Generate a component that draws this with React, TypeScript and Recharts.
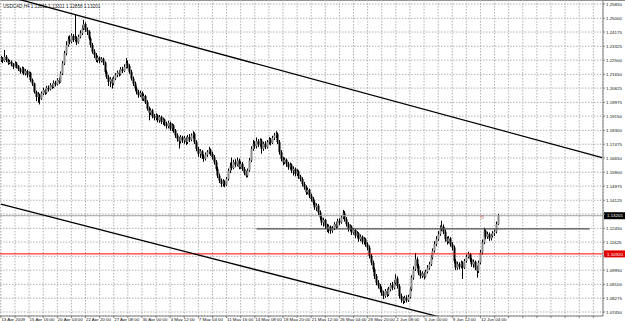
import React from "react";
import {
  ComposedChart,
  Bar,
  XAxis,
  YAxis,
  CartesianGrid,
  ReferenceLine,
  ReferenceDot,
} from "recharts";

// USDCAD H4 bars: [high, low, close], open = previous close
const firstOpen = 1.225;
const bars: [number, number, number][] = [
  // 0
  [1.2275, 1.2238, 1.226], [1.2268, 1.2232, 1.2245], [1.231, 1.224, 1.227], [1.228, 1.2238, 1.225], [1.2258, 1.2222, 1.2235],
  [1.2252, 1.2225, 1.224], [1.2248, 1.2212, 1.2225], [1.2232, 1.2196, 1.221], [1.2242, 1.2205, 1.223], [1.2238, 1.22, 1.2215],
  // 10
  [1.222, 1.2185, 1.2195], [1.2205, 1.2168, 1.218], [1.2212, 1.2172, 1.22], [1.2208, 1.216, 1.217], [1.2196, 1.2158, 1.2185],
  [1.2192, 1.2145, 1.216], [1.2182, 1.215, 1.2175], [1.218, 1.212, 1.213], [1.214, 1.2095, 1.211], [1.2115, 1.205, 1.206],
  // 20
  [1.2068, 1.2005, 1.203], [1.2058, 1.1995, 1.2045], [1.205, 1.1985, 1.202], [1.2062, 1.2012, 1.205], [1.2085, 1.204, 1.207],
  [1.2078, 1.2042, 1.2055], [1.2096, 1.2048, 1.2085], [1.2098, 1.2062, 1.2075], [1.2112, 1.2068, 1.21], [1.211, 1.2078, 1.209],
  // 30
  [1.2128, 1.2082, 1.2115], [1.2126, 1.2092, 1.2105], [1.2142, 1.2098, 1.213], [1.2146, 1.2108, 1.212], [1.2182, 1.2115, 1.217],
  [1.2245, 1.216, 1.223], [1.2305, 1.222, 1.229], [1.2362, 1.2278, 1.234], [1.2392, 1.233, 1.2375], [1.2398, 1.2345, 1.236],
  // 40
  [1.241, 1.235, 1.2395], [1.2405, 1.2358, 1.237], [1.252, 1.2362, 1.238], [1.2392, 1.234, 1.2355], [1.2402, 1.2348, 1.239],
  [1.2428, 1.238, 1.241], [1.2458, 1.24, 1.244], [1.249, 1.243, 1.2465], [1.2475, 1.2418, 1.243], [1.2445, 1.24, 1.242],
  // 50
  [1.2428, 1.2368, 1.238], [1.239, 1.2325, 1.234], [1.2352, 1.2288, 1.23], [1.2315, 1.2262, 1.228], [1.2292, 1.2238, 1.225],
  [1.2275, 1.2235, 1.2265], [1.2272, 1.2232, 1.2245], [1.2268, 1.2236, 1.2258], [1.2265, 1.222, 1.2235], [1.2242, 1.2168, 1.218],
  // 60
  [1.219, 1.2138, 1.215], [1.216, 1.2095, 1.212], [1.2148, 1.2088, 1.2135], [1.2145, 1.208, 1.211], [1.2152, 1.21, 1.214],
  [1.2172, 1.213, 1.216], [1.2188, 1.2148, 1.2175], [1.219, 1.2152, 1.2165], [1.2208, 1.2158, 1.2195], [1.221, 1.2172, 1.2185],
  // 70
  [1.2225, 1.2178, 1.221], [1.2262, 1.22, 1.223], [1.2248, 1.22, 1.2215], [1.2225, 1.2168, 1.218], [1.2192, 1.2128, 1.214],
  [1.2152, 1.2095, 1.211], [1.2122, 1.2068, 1.208], [1.2092, 1.2045, 1.206], [1.2072, 1.2025, 1.204], [1.2068, 1.203, 1.2055],
  // 80
  [1.2062, 1.2008, 1.202], [1.2048, 1.2005, 1.2035], [1.2042, 1.1988, 1.2], [1.201, 1.1948, 1.196], [1.1972, 1.189, 1.1935],
  [1.1962, 1.1922, 1.195], [1.1958, 1.1902, 1.1915], [1.1928, 1.189, 1.1905], [1.1932, 1.1892, 1.192], [1.1926, 1.1878, 1.189],
  // 90
  [1.1922, 1.1875, 1.191], [1.1918, 1.1868, 1.188], [1.1906, 1.1862, 1.1895], [1.19, 1.1855, 1.187], [1.1882, 1.184, 1.1855],
  [1.1888, 1.1842, 1.1875], [1.1882, 1.1828, 1.184], [1.1872, 1.1825, 1.186], [1.1866, 1.1815, 1.183], [1.1838, 1.1785, 1.18],
  // 100
  [1.1812, 1.1762, 1.178], [1.1792, 1.1722, 1.1765], [1.1802, 1.1752, 1.179], [1.1798, 1.1755, 1.177], [1.1796, 1.175, 1.1785],
  [1.1792, 1.1742, 1.176], [1.1802, 1.1748, 1.179], [1.1808, 1.176, 1.1775], [1.1812, 1.1765, 1.18], [1.1825, 1.1782, 1.181],
  // 110
  [1.1818, 1.1748, 1.176], [1.1772, 1.1705, 1.172], [1.1732, 1.1672, 1.169], [1.1718, 1.1665, 1.1705], [1.1712, 1.166, 1.1675],
  [1.1688, 1.1642, 1.166], [1.1698, 1.165, 1.1685], [1.1712, 1.1672, 1.17], [1.1732, 1.1688, 1.1715], [1.1722, 1.1678, 1.169],
  // 120
  [1.1702, 1.1655, 1.167], [1.1682, 1.1625, 1.164], [1.1652, 1.1588, 1.16], [1.1612, 1.1545, 1.156], [1.1572, 1.1515, 1.153],
  [1.1542, 1.1492, 1.151], [1.1538, 1.1495, 1.1525], [1.1532, 1.149, 1.1505], [1.1552, 1.1498, 1.154], [1.1602, 1.153, 1.159],
  // 130
  [1.1638, 1.1575, 1.162], [1.1668, 1.1592, 1.1605], [1.1655, 1.1598, 1.164], [1.1658, 1.161, 1.1625], [1.1668, 1.1615, 1.165],
  [1.1662, 1.1598, 1.161], [1.1645, 1.16, 1.163], [1.1642, 1.1588, 1.16], [1.1612, 1.1562, 1.1575], [1.159, 1.1548, 1.156],
  // 140
  [1.1602, 1.155, 1.159], [1.1665, 1.1582, 1.165], [1.1735, 1.164, 1.172], [1.1772, 1.1708, 1.175], [1.1768, 1.172, 1.1735],
  [1.1788, 1.1722, 1.1765], [1.1778, 1.173, 1.1745], [1.1782, 1.1735, 1.177], [1.178, 1.169, 1.172], [1.1762, 1.1708, 1.175],
  // 150
  [1.1765, 1.1718, 1.173], [1.1772, 1.1722, 1.176], [1.179, 1.1745, 1.1775], [1.1785, 1.174, 1.1755], [1.1798, 1.1748, 1.1785],
  [1.1815, 1.1772, 1.18], [1.1825, 1.1785, 1.181], [1.1818, 1.1748, 1.176], [1.1772, 1.1685, 1.17], [1.1712, 1.1645, 1.166],
  // 160
  [1.1672, 1.1622, 1.164], [1.1668, 1.1628, 1.1655], [1.1662, 1.1612, 1.163], [1.1642, 1.1595, 1.161], [1.1638, 1.1598, 1.1625],
  [1.1632, 1.1575, 1.159], [1.1615, 1.156, 1.16], [1.1608, 1.1555, 1.157], [1.1598, 1.1558, 1.1585], [1.1592, 1.154, 1.1555],
  // 170
  [1.1565, 1.1525, 1.154], [1.155, 1.1495, 1.151], [1.1522, 1.1475, 1.149], [1.1502, 1.1445, 1.146], [1.1488, 1.1448, 1.1475],
  [1.1482, 1.1425, 1.144], [1.1452, 1.1405, 1.142], [1.1432, 1.1385, 1.14], [1.1412, 1.1355, 1.137], [1.1395, 1.1348, 1.138],
  // 180
  [1.139, 1.1325, 1.134], [1.1352, 1.1295, 1.131], [1.1322, 1.1262, 1.128], [1.1308, 1.1255, 1.1295], [1.1302, 1.124, 1.126],
  [1.1272, 1.1222, 1.124], [1.1268, 1.1215, 1.1255], [1.1262, 1.1212, 1.123], [1.1258, 1.1218, 1.1245], [1.1282, 1.1235, 1.127],
  // 190
  [1.1285, 1.124, 1.1255], [1.1302, 1.1248, 1.129], [1.1305, 1.1265, 1.128], [1.1322, 1.1272, 1.131], [1.1355, 1.13, 1.1335],
  [1.1348, 1.1285, 1.13], [1.1312, 1.1255, 1.127], [1.1282, 1.1225, 1.124], [1.1268, 1.1228, 1.1255], [1.1262, 1.1205, 1.122],
  // 200
  [1.1248, 1.1208, 1.1235], [1.1242, 1.1185, 1.12], [1.1228, 1.119, 1.1215], [1.1222, 1.1165, 1.118], [1.1208, 1.1168, 1.1195],
  [1.1202, 1.115, 1.1165], [1.1192, 1.1148, 1.118], [1.1188, 1.1135, 1.115], [1.1162, 1.1112, 1.113], [1.1142, 1.1065, 1.108],
  // 210
  [1.1092, 1.1025, 1.104], [1.1052, 1.0985, 1.1], [1.1012, 1.0942, 1.096], [1.0972, 1.0905, 1.092], [1.0935, 1.0885, 1.09],
  [1.0912, 1.0862, 1.088], [1.0895, 1.0842, 1.086], [1.0872, 1.0822, 1.084], [1.0882, 1.083, 1.087], [1.0885, 1.0835, 1.085],
  // 220
  [1.0895, 1.084, 1.088], [1.0918, 1.0868, 1.0905], [1.0925, 1.0875, 1.089], [1.0935, 1.088, 1.092], [1.097, 1.0908, 1.0945],
  [1.0958, 1.0885, 1.09], [1.0912, 1.0825, 1.084], [1.0855, 1.08, 1.082], [1.0835, 1.0792, 1.081], [1.0842, 1.0798, 1.083],
  // 230
  [1.0845, 1.0802, 1.0815], [1.0848, 1.0805, 1.0835], [1.0895, 1.0825, 1.088], [1.0965, 1.087, 1.095], [1.1018, 1.0938, 1.1],
  [1.1098, 1.099, 1.106], [1.1072, 1.1005, 1.102], [1.1032, 1.0965, 1.098], [1.0995, 1.0945, 1.096], [1.0988, 1.0948, 1.0975],
  // 240
  [1.0985, 1.094, 1.0955], [1.0998, 1.095, 1.0985], [1.1025, 1.0975, 1.101], [1.1045, 1.0998, 1.103], [1.1085, 1.102, 1.107],
  [1.1125, 1.106, 1.111], [1.1168, 1.11, 1.115], [1.1198, 1.1138, 1.118], [1.1228, 1.117, 1.121], [1.1262, 1.12, 1.124],
  // 250
  [1.129, 1.1228, 1.1255], [1.1268, 1.121, 1.1225], [1.1238, 1.1165, 1.118], [1.1195, 1.1148, 1.1165], [1.1198, 1.1155, 1.1185],
  [1.1192, 1.1135, 1.115], [1.1162, 1.1112, 1.113], [1.1142, 1.1035, 1.105], [1.1062, 1.0995, 1.101], [1.1045, 1.0998, 1.103],
  // 260
  [1.1042, 1.1, 1.1015], [1.1052, 1.1005, 1.104], [1.1048, 1.0942, 1.101], [1.1062, 1.1002, 1.105], [1.1088, 1.104, 1.1075],
  [1.1105, 1.1065, 1.109], [1.1098, 1.1045, 1.106], [1.1068, 1.1015, 1.103], [1.1058, 1.101, 1.1045], [1.1052, 1.0995, 1.101],
  // 270
  [1.1022, 1.095, 1.099], [1.1052, 1.0978, 1.104], [1.1115, 1.103, 1.11], [1.1178, 1.1088, 1.116], [1.1248, 1.115, 1.123],
  [1.124, 1.118, 1.1195], [1.1225, 1.1182, 1.121], [1.122, 1.117, 1.1185], [1.1212, 1.1172, 1.12], [1.1228, 1.119, 1.1215],
  // 280
  [1.1238, 1.1198, 1.1225], [1.1285, 1.1215, 1.127], [1.1331, 1.1265, 1.132],
];

// one label every 16 bars
const timeLabels = [
  "13 Apr 2009", "15 Apr 16:00", "20 Apr 04:00", "22 Apr 20:00", "27 Apr 08:00", "30 Apr 00:00",
  "4 May 12:00", "7 May 04:00", "11 May 16:00", "14 May 08:00", "18 May 20:00", "21 May 12:00",
  "26 May 04:00", "28 May 20:00", "2 Jun 08:00", "5 Jun 00:00", "9 Jun 12:00", "12 Jun 04:00",
];

const priceTicks = [
  1.2585, 1.25, 1.24175, 1.23325, 1.225, 1.2165, 1.20825, 1.19975, 1.1915, 1.183, 1.17475, 1.1665,
  1.158, 1.14975, 1.14125, 1.133, 1.1245, 1.11625, 1.10775, 1.0995, 1.091, 1.08275, 1.0745,
];

const title = "USDCAD,H4  1.13011 1.13311 1.12858 1.13201";
const bidPrice = 1.13201;
const redLevel = 1.1092;
const greyLevel = 1.1241;
const greyFrom = 145;
const greyTo = 334;
const upperChannel = [
  { x: 0, y: 1.2642 },
  { x: 341, y: 1.1667 },
];
const lowerChannel = [
  { x: 0, y: 1.1389 },
  { x: 260, y: 1.0685 },
];
const markerBar = 273;
const markerPrice = 1.1302;

const SLOTS = 342;
const hiddenTicks = [1.133, 1.10775];

const rows = Array.from({ length: SLOTS }, (_, i) => {
  const b = bars[i];
  if (!b) return { i };
  const open = i === 0 ? firstOpen : bars[i - 1][2];
  return { i, range: [b[1], b[0]], open, high: b[0], low: b[1], close: b[2] };
});

const gridTicks = Array.from({ length: Math.floor(SLOTS / 8) + 1 }, (_, k) => k * 8).filter(
  (v) => v < SLOTS
);

const FONT = "'Liberation Sans', Arial, sans-serif";

function Candle(props: any) {
  const { x, y, width, height, payload } = props;
  if (!payload || payload.range == null || !isFinite(y)) return <g />;
  const cx = Math.floor(x + width / 2) + 0.5;
  const span = payload.high - payload.low || 1;
  const yO = y + ((payload.high - payload.open) / span) * height;
  const yC = y + ((payload.high - payload.close) / span) * height;
  const up = payload.close >= payload.open;
  return (
    <g>
      <line x1={cx} x2={cx} y1={y} y2={y + height} stroke="#000" strokeWidth={1} />
      <rect
        x={cx - 1}
        y={Math.min(yO, yC)}
        width={2}
        height={Math.max(1, Math.abs(yC - yO))}
        fill={up ? "#8c8c8c" : "#000"}
      />
    </g>
  );
}

function PriceTick(props: any) {
  const { x, y, payload } = props;
  if (hiddenTicks.includes(payload.value)) return <g />;
  return (
    <text x={x} y={y} dy={1.6} fontSize={4.4} fill="#111" fontFamily={FONT} textAnchor="start">
      {payload.value.toFixed(5)}
    </text>
  );
}

function TimeTick(props: any) {
  const { x, y, payload } = props;
  const v = payload.value as number;
  if (v % 16 !== 0) return <g />;
  const label = timeLabels[v / 16];
  if (!label) return <g />;
  return (
    <text x={x + 0.5} y={y} dy={3.2} fontSize={4.4} fill="#111" fontFamily={FONT} textAnchor="start">
      {label}
    </text>
  );
}

function PriceBox(bg: string, text: string, price: number) {
  return (props: any) => {
    const vb = props.viewBox || {};
    const left = (vb.x ?? 0) + (vb.width ?? 0);
    return (
      <g>
        <rect x={left + 1} y={vb.y - 3.5} width={21} height={7} fill={bg} />
        <text x={left + 4} y={vb.y} dy={1.6} fontSize={4.4} fill={text} fontFamily={FONT}>
          {price.toFixed(5)}
        </text>
      </g>
    );
  };
}

export default function App() {
  return (
    <div style={{ width: 625, height: 321, background: "#fff", boxShadow: "inset 0 1px 0 #8a8a8a" }}>
      <style>{"body{margin:0}"}</style>
      <ComposedChart
        width={625}
        height={321}
        data={rows}
        margin={{ top: 0, right: 0, left: 0, bottom: 0 }}
        barCategoryGap={0}
      >
        <CartesianGrid stroke="#b0b0b0" strokeDasharray="1.5 1.5" />
        <XAxis
          dataKey="i"
          type="category"
          ticks={gridTicks}
          interval={0}
          height={5}
          tickSize={2}
          tickMargin={0}
          tick={<TimeTick />}
          stroke="#808080"
        />
        <YAxis
          orientation="right"
          width={22}
          type="number"
          domain={[1.0721, 1.2609]}
          allowDataOverflow
          ticks={priceTicks}
          interval={0}
          tickSize={2}
          tickMargin={1}
          tick={<PriceTick />}
          stroke="#808080"
        />
        <ReferenceLine y={bidPrice} stroke="#a0a0a0" label={PriceBox("#000", "#fff", bidPrice)} />
        <ReferenceLine y={redLevel} stroke="#ff0000" label={PriceBox("#e00000", "#fff", redLevel)} />
        <ReferenceLine
          segment={[
            { x: greyFrom, y: greyLevel },
            { x: greyTo, y: greyLevel },
          ]}
          stroke="#505050"
          strokeWidth={1.3}
        />
        <ReferenceLine segment={upperChannel} stroke="#000" strokeWidth={1.3} ifOverflow="hidden" />
        <ReferenceLine segment={lowerChannel} stroke="#000" strokeWidth={1.3} ifOverflow="hidden" />
        <Bar dataKey="range" shape={<Candle />} isAnimationActive={false} />
        <ReferenceDot
          x={markerBar}
          y={markerPrice}
          r={0}
          shape={(p: any) => (
            <text x={p.cx} y={p.cy} fontSize={6} fill="#c86464" fontFamily={FONT} textAnchor="middle">
              ñ
            </text>
          )}
        />
        <text x={3} y={7.5} fontSize={4.6} fill="#222" fontFamily={FONT}>
          {title}
        </text>
      </ComposedChart>
    </div>
  );
}
